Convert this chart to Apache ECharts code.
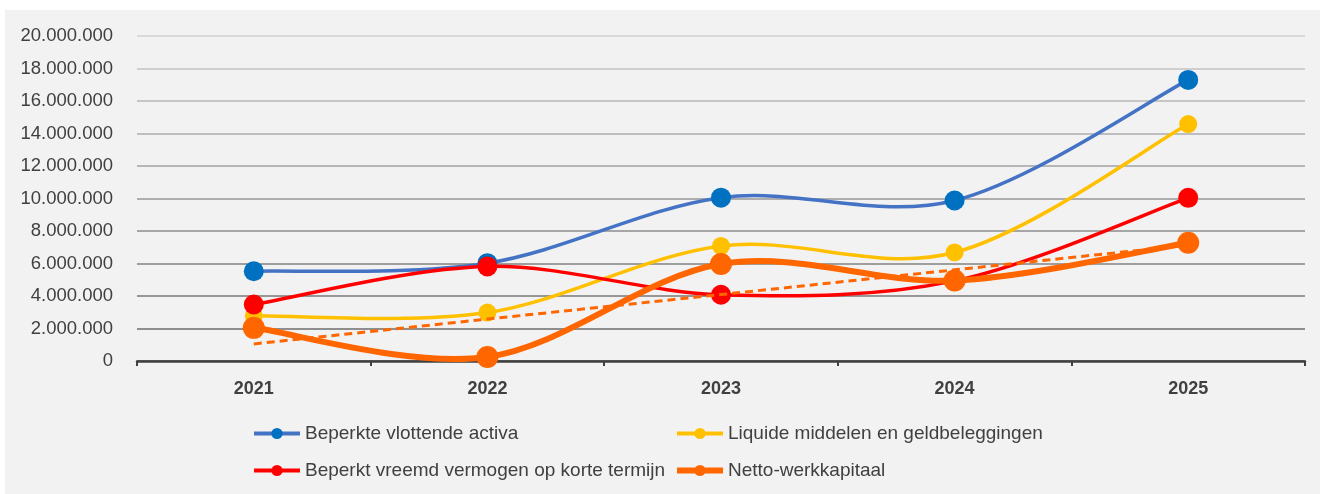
<!DOCTYPE html>
<html>
<head>
<meta charset="utf-8">
<script src="https://cdn.jsdelivr.net/npm/echarts@6/dist/echarts.min.js"></script>
<style>
html,body{margin:0;padding:0;background:#ffffff;}
#c{width:1320px;height:494px;}
</style>
</head>
<body>
<div id="c"></div>
<script>
const categories = ['2021', '2022', '2023', '2024', '2025'];
const seriesNames = [
  'Beperkte vlottende activa',
  'Liquide middelen en geldbeleggingen',
  'Beperkt vreemd vermogen op korte termijn',
  'Netto-werkkapitaal'
];
const activa = [5520000, 6020000, 10050000, 9880000, 17300000];
const liquide = [2780000, 2980000, 7080000, 6680000, 14580000];
const vreemd = [3480000, 5820000, 4080000, 4930000, 10040000];
const netto = [2040000, 250000, 5970000, 4950000, 7280000];
const trend = [1050000, 2580000, 4090000, 5610000, 7130000];
const yTicks = { min: 0, max: 20000000, interval: 2000000 };

const FONT = "'Liberation Sans', Arial, sans-serif";
const fmt = v => String(Math.round(v)).replace(/\B(?=(\d{3})+(?!\d))/g, '.');

const chart = echarts.init(document.getElementById('c'), null, { renderer: 'canvas' });

// Smooth curve (spreadsheet-style) drawn segment by segment from data through api.coord
function curveSeries(values, color, width, z) {
  return {
    type: 'custom', z: z, silent: true, clip: false,
    data: values.map((v, i) => [i, v]),
    encode: { x: 0, y: 1 },
    renderItem: function (params, api) {
      const i = params.dataIndex;
      const n = values.length;
      if (i >= n - 1) return { type: 'group', children: [] };
      const P = k => {
        const kk = Math.max(0, Math.min(n - 1, k));
        return api.coord([kk, values[kk]]);
      };
      const p0 = P(i - 1), p1 = P(i), p2 = P(i + 1), p3 = P(i + 2);
      const cp1 = [p1[0] + (p2[0] - p0[0]) / 6, p1[1] + (p2[1] - p0[1]) / 6];
      const cp2 = [p2[0] - (p3[0] - p1[0]) / 6, p2[1] - (p3[1] - p1[1]) / 6];
      return {
        type: 'bezierCurve',
        shape: { x1: p1[0], y1: p1[1], x2: p2[0], y2: p2[1],
                 cpx1: cp1[0], cpy1: cp1[1], cpx2: cp2[0], cpy2: cp2[1] },
        style: { stroke: color, lineWidth: width, fill: null, lineCap: 'round' }
      };
    }
  };
}

function dotSeries(name, data, lineColor, dotColor, width, size, z) {
  return {
    name: name, type: 'line', data: data, smooth: false,
    symbol: 'circle', symbolSize: size, z: z,
    lineStyle: { color: lineColor, width: width, opacity: 0 },
    itemStyle: { color: dotColor, borderWidth: 0 },
    emphasis: { disabled: true }
  };
}

function legendItem(name, lineColor, width) {
  return { name: name, lineStyle: { color: lineColor, width: width, opacity: 1 } };
}

chart.setOption({
  animation: false,
  backgroundColor: '#ffffff',
  graphic: [{
    type: 'rect', left: 5, top: 10, z: -10,
    shape: { width: 1315, height: 484 },
    style: { fill: '#F2F2F2' }
  }],
  grid: { left: 137, right: 15, top: 36, bottom: 133, containLabel: false },
  legend: [
    {
      orient: 'vertical', left: 247, top: 419, itemGap: 18,
      itemWidth: 46, itemHeight: 14,
      data: [legendItem(seriesNames[0], '#4472C4', 4), legendItem(seriesNames[2], '#FF0000', 4)],
      textStyle: { fontFamily: FONT, fontSize: 19, color: '#404040' }
    },
    {
      orient: 'vertical', left: 669, top: 419, itemGap: 18,
      itemWidth: 46, itemHeight: 14,
      data: [legendItem(seriesNames[1], '#FFC000', 4), legendItem(seriesNames[3], '#FF6600', 6)],
      textStyle: { fontFamily: FONT, fontSize: 19, color: '#404040' }
    }
  ],
  xAxis: {
    type: 'category', data: categories, boundaryGap: true,
    axisLine: { show: true, lineStyle: { color: '#404040', width: 2.5 } },
    axisTick: { show: true, length: 5, lineStyle: { color: '#404040', width: 2 } },
    axisLabel: { fontFamily: FONT, fontSize: 18, fontWeight: 'bold', color: '#404040', margin: 19 },
    splitLine: { show: false }
  },
  yAxis: {
    type: 'value', min: yTicks.min, max: yTicks.max, interval: yTicks.interval,
    axisLine: { show: false }, axisTick: { show: false },
    axisLabel: { fontFamily: FONT, fontSize: 18.5, color: '#404040', margin: 24, formatter: fmt },
    splitLine: { show: true, lineStyle: { width: 2, color: [
      '#7f7f7f', '#8e8e8e', '#969696', '#9e9e9e', '#a6a6a6', '#aeaeae',
      '#b6b6b6', '#bebebe', '#c6c6c6', '#cfcfcf', '#d9d9d9'
    ] } }
  },
  series: [
    curveSeries(activa, '#4472C4', 3.5, 2),
    dotSeries(seriesNames[0], activa, '#4472C4', '#0070C0', 3.5, 20, 3),
    curveSeries(liquide, '#FFC000', 3.5, 4),
    dotSeries(seriesNames[1], liquide, '#FFC000', '#FFC000', 3.5, 18, 5),
    curveSeries(vreemd, '#FF0000', 3.5, 6),
    dotSeries(seriesNames[2], vreemd, '#FF0000', '#FF0000', 3.5, 20, 7),
    {
      name: 'trend', type: 'line', data: trend, smooth: false,
      symbol: 'none', z: 8, silent: true,
      lineStyle: { color: '#FF6600', width: 3, type: [8, 5] }
    },
    curveSeries(netto, '#FF6600', 6, 9),
    dotSeries(seriesNames[3], netto, '#FF6600', '#FF6600', 6, 22, 10)
  ]
});
</script>
</body>
</html>
